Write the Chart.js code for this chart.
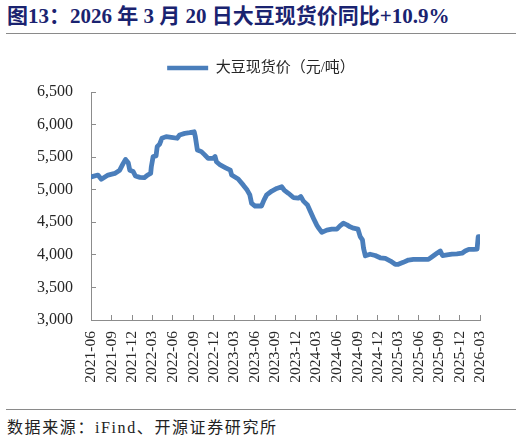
<!DOCTYPE html>
<html><head><meta charset="utf-8">
<script src="https://cdn.jsdelivr.net/npm/chart.js@4.4.1/dist/chart.umd.min.js"></script>
<style>
html,body{margin:0;padding:0;background:#fff;}
body{width:522px;height:439px;position:relative;overflow:hidden;}
#title{position:absolute;left:7px;top:6px;font:bold 21px/21px "Liberation Serif","Noto Sans CJK SC",serif;color:#1a2370;white-space:nowrap;}
.rule{position:absolute;left:6px;width:510px;height:0;border-top:1.3px solid #8a8a8a;}
#wrap{position:absolute;left:0;top:40px;width:522px;height:368px;}
#source{position:absolute;left:7px;top:420px;font:16px/16px "Liberation Serif","Noto Sans CJK SC",serif;color:#222;white-space:nowrap;letter-spacing:1.6px;}
</style></head>
<body>
<div id="title">图13：2026 年 3 月 20 日大豆现货价同比+10.9%</div>
<div class="rule" style="top:33px"></div>
<div id="wrap"><canvas id="c" width="522" height="368"></canvas></div>
<div class="rule" style="top:409px"></div>
<div id="source">数据来源：iFind、开源证券研究所</div>
<script>
const seriesName = '大豆现货价（元/吨）';
const tickLabels = ['2021-06','2021-09','2021-12','2022-03','2022-06','2022-09','2022-12','2023-03','2023-06','2023-09','2023-12','2024-03','2024-06','2024-09','2024-12','2025-03','2025-06','2025-09','2025-12','2026-03'];
const dates = [
'2021-06-25','2021-07-21','2021-08-05','2021-09-04','2021-10-04','2021-10-26','2021-11-10','2021-11-21','2021-12-03','2021-12-10','2021-12-25',
'2022-01-04','2022-01-24','2022-02-13','2022-02-27','2022-03-13','2022-03-16','2022-03-24','2022-04-06','2022-04-11','2022-04-22','2022-05-02','2022-05-21','2022-06-13','2022-07-09','2022-07-20','2022-08-12','2022-09-03','2022-09-23','2022-09-28','2022-10-07','2022-10-25','2022-11-09','2022-11-24','2022-12-16','2022-12-25','2022-12-31',
'2023-01-17','2023-02-08','2023-03-03','2023-03-09','2023-04-07','2023-04-30','2023-05-17','2023-05-29','2023-06-06','2023-06-21','2023-07-20','2023-07-31','2023-08-12','2023-09-04','2023-09-26','2023-10-18','2023-10-29','2023-11-17','2023-12-09','2023-12-31',
'2024-01-11','2024-01-23','2024-02-10','2024-02-23','2024-03-08','2024-03-22','2024-03-29','2024-04-14','2024-05-06','2024-05-28','2024-06-20','2024-07-04','2024-07-19','2024-08-04','2024-08-18','2024-09-02','2024-09-22','2024-10-02','2024-10-12','2024-10-17','2024-10-25','2024-11-15','2024-12-08','2024-12-30',
'2025-01-22','2025-02-14','2025-03-07','2025-03-21','2025-04-12','2025-05-05','2025-05-27','2025-06-19','2025-07-11','2025-08-02','2025-08-20','2025-09-09','2025-09-24','2025-10-04','2025-10-24','2025-11-15','2025-12-07','2025-12-30',
'2026-01-13','2026-01-29','2026-02-20','2026-03-07','2026-03-12','2026-03-20'];
const prices = [
5200,5225,5160,5225,5250,5300,5400,5465,5415,5300,5280,
5210,5190,5185,5225,5250,5355,5510,5520,5660,5700,5790,5815,5805,5790,5840,5865,5875,5890,5815,5610,5585,5535,5480,5480,5510,5430,
5380,5340,5300,5225,5165,5070,4995,4920,4790,4750,4750,4840,4920,4980,5020,5045,4995,4945,4880,4870,
4895,4825,4765,4665,4560,4460,4420,4345,4380,4395,4395,4445,4485,4460,4430,4410,4395,4280,4230,4100,3985,4010,3990,3955,
3945,3905,3855,3855,3885,3920,3930,3930,3930,3930,3975,4025,4060,3990,4000,4010,4015,4025,
4060,4085,4085,4090,4280,4280];

const dayNum = s => Date.UTC(+s.slice(0,4), +s.slice(5,7)-1, +(s.slice(8,10)||'20'))/864e5;
const base = dayNum(tickLabels[0] + '-20');
const tickVals = tickLabels.map(l => dayNum(l + '-20') - base);
const points = dates.map((d,i) => ({x: dayNum(d) - base, y: prices[i]}));

const SERIF = '"Liberation Serif","Noto Sans CJK SC",serif';
const lineColor = '#4A7EBB';
const axisColor = '#8c8c8c';

new Chart(document.getElementById('c'), {
  type: 'line',
  data: { datasets: [{
    label: seriesName, data: points, xAxisID: 'x', yAxisID: 'y',
    borderColor: lineColor, backgroundColor: lineColor, borderWidth: 4.8,
    pointRadius: 0, tension: 0, borderJoinStyle: 'round', borderCapStyle: 'round'
  }]},
  options: {
    responsive: false, animation: false, devicePixelRatio: 1,
    layout: { padding: { top: 10.5, left: 0, right: 0, bottom: 0 } },
    plugins: {
      tooltip: { enabled: false },
      legend: {
        position: 'top',
        labels: {
          boxWidth: 41, boxHeight: 4.5, padding: 10, color: '#262626',
          font: { family: SERIF, size: 15 },
          generateLabels(chart) {
            const items = Chart.defaults.plugins.legend.labels.generateLabels(chart);
            items.forEach(it => { it.lineWidth = 0; it.fillStyle = lineColor; });
            return items;
          }
        }
      }
    },
    scales: {
      x: {
        type: 'linear', position: 'bottom', min: 0, max: tickVals[tickVals.length-1],
        afterBuildTicks(s) { s.ticks = tickVals.map(v => ({ value: v })); },
        afterFit(s) { s.height = 88; },
        grid: { drawOnChartArea: false, drawTicks: true, tickLength: -5, color: axisColor, lineWidth: 1 },
        border: { display: true, color: axisColor, width: 1 },
        ticks: {
          autoSkip: false, minRotation: 90, maxRotation: 90, padding: 16, color: '#262626',
          font: { family: SERIF, size: 15.5 },
          callback: (v, i) => tickLabels[i]
        }
      },
      xTop: {
        type: 'linear', position: 'top', display: true,
        grid: { display: false, drawTicks: false }, border: { display: false }, ticks: { display: false },
        afterFit(s) { s.height = 6.5; }
      },
      y: {
        type: 'linear', position: 'left', min: 3000, max: 6500,
        afterFit(s) { s.width = 91; },
        grid: { drawOnChartArea: false, drawTicks: true, tickLength: -5, color: axisColor, lineWidth: 1 },
        border: { display: true, color: axisColor, width: 1 },
        ticks: {
          stepSize: 500, padding: 23, color: '#262626',
          font: { family: SERIF, size: 16 },
          callback: v => v.toLocaleString('en-US')
        }
      },
      y2: {
        type: 'linear', position: 'right', display: true,
        grid: { display: false, drawTicks: false }, border: { display: false }, ticks: { display: false },
        afterFit(s) { s.width = 42; }
      }
    }
  }
});
</script>
</body></html>
